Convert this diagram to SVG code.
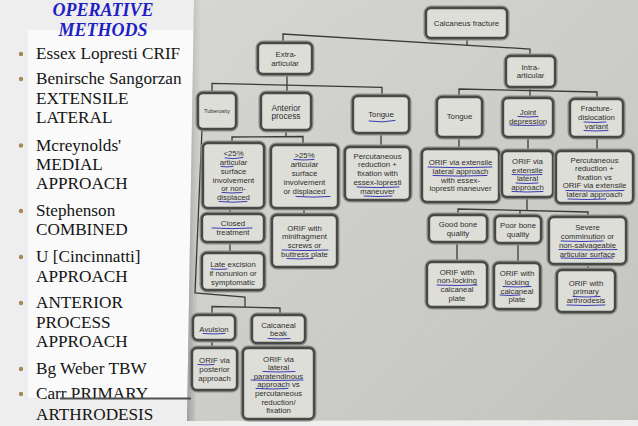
<svg xmlns="http://www.w3.org/2000/svg" width="638" height="426" viewBox="0 0 638 426">
<defs>
<linearGradient id="photo" x1="0" y1="0" x2="1" y2="1">
<stop offset="0" stop-color="#d6d6d2"/>
<stop offset="1" stop-color="#c3c3bf"/>
</linearGradient>
<linearGradient id="edge" x1="0" y1="0" x2="1" y2="0">
<stop offset="0" stop-color="#9c9c98"/>
<stop offset="1" stop-color="#c8c8c4" stop-opacity="0"/>
</linearGradient>
<style>
.sl{font-family:"Liberation Serif","Times New Roman",serif;font-size:17.2px;fill:#141414}
.hd{font-family:"Liberation Serif","Times New Roman",serif;font-size:18px;font-weight:bold;font-style:italic;fill:#1f1fc4;text-anchor:middle}
.bul{fill:#a8865a}
.halo{fill:none;stroke:#8e8e8a;stroke-width:5}
.box{fill:#deded9;stroke:#484846;stroke-width:2.4}
.t{font-family:"Liberation Sans",Arial,sans-serif;font-size:7.8px;fill:#2e2e2c;text-anchor:middle}
.conn{fill:none;stroke:#3a3a38;stroke-width:1.3}
.ink{fill:none;stroke:#3b3bb0;stroke-width:1;stroke-linecap:round}
</style>
</defs>

<!-- slide background -->
<rect x="0" y="0" width="638" height="426" fill="#eeeeee"/>
<rect x="28" y="30" width="166" height="368" fill="#fafafa"/>

<!-- heading and bullet list -->
<g id="list">
<text class="hd" x="103" y="16">OPERATIVE</text>
<text class="hd" x="103" y="36">METHODS</text>
<circle class="bul" cx="21" cy="54" r="2.2"/>
<text class="sl" x="36" y="59.3">Essex Lopresti CRIF</text>
<circle class="bul" cx="21" cy="79" r="2.2"/>
<text class="sl" x="36" y="84">Benirsche Sangorzan</text>
<text class="sl" x="36" y="104">EXTENSILE</text>
<text class="sl" x="36" y="122.7">LATERAL</text>
<circle class="bul" cx="21" cy="145.5" r="2.2"/>
<text class="sl" x="36" y="150.7">Mcreynolds'</text>
<text class="sl" x="36" y="170">MEDIAL</text>
<text class="sl" x="36" y="188.5">APPROACH</text>
<circle class="bul" cx="21" cy="211" r="2.2"/>
<text class="sl" x="36" y="216">Stephenson</text>
<text class="sl" x="36" y="235">COMBINED</text>
<circle class="bul" cx="21" cy="257" r="2.2"/>
<text class="sl" x="36" y="262">U [Cincinnatti]</text>
<text class="sl" x="36" y="281.5">APPROACH</text>
<circle class="bul" cx="21" cy="303" r="2.2"/>
<text class="sl" x="36" y="308">ANTERIOR</text>
<text class="sl" x="36" y="327.7">PROCESS</text>
<text class="sl" x="36" y="346.7">APPROACH</text>
<circle class="bul" cx="21" cy="369" r="2.2"/>
<text class="sl" x="36" y="374">Bg Weber TBW</text>
<circle class="bul" cx="21" cy="394" r="2.2"/>
<text class="sl" x="36" y="399">Carr PRIMARY</text>
<text class="sl" x="36" y="420">ARTHRODESIS</text>
</g>

<!-- photo of flowchart -->
<polygon points="194,0 638,0 638,420 187,421" fill="url(#photo)"/>
<polygon points="194,0 202,0 195,421 187,421" fill="url(#edge)"/>
<line x1="60" y1="398.5" x2="191" y2="398.5" stroke="#505050" stroke-width="1.8"/>

<g id="connectors">
<polyline class="conn" points="467,38 467,45.5"/>
<polyline class="conn" points="283,43 283,34 530,49 530,56"/>
<polyline class="conn" points="287,74 287,93"/>
<polyline class="conn" points="212,93 212,83.3 382,87.3 382,96"/>
<polyline class="conn" points="286,130 286,137"/>
<polyline class="conn" points="232,143 232,137 303,136.5 303,145"/>
<polyline class="conn" points="381,133 381,147"/>
<polyline class="conn" points="202,129 195,293 245,297 245,307"/>
<polyline class="conn" points="212,315 212,306.5 280,308 280,315"/>
<polyline class="conn" points="230,208 230,214"/>
<polyline class="conn" points="230,242 230,253"/>
<polyline class="conn" points="304,208 304,215"/>
<polyline class="conn" points="212,340 212,348"/>
<polyline class="conn" points="280,343 280,348"/>
<polyline class="conn" points="530,87 530,98"/>
<polyline class="conn" points="459,97 459,89 597,92 597,99"/>
<polyline class="conn" points="459,137 459,149"/>
<polyline class="conn" points="528,137 528,151"/>
<polyline class="conn" points="597,137 597,151"/>
<polyline class="conn" points="527,197 527,210.5"/>
<polyline class="conn" points="458,215 458,209 588,212 588,217"/>
<polyline class="conn" points="520,210.5 520,216"/>
<polyline class="conn" points="457,242 457,262"/>
<polyline class="conn" points="518,243 518,263"/>
<polyline class="conn" points="588,264 588,270"/>
</g>

<g id="n-calcaneus"><rect class="halo" x="426" y="8" width="81" height="30" rx="5"/><rect class="box" x="426" y="8" width="81" height="30" rx="5"/>
<text class="t" x="466.5" y="25.7">Calcaneus fracture</text></g>

<g id="n-extra"><rect class="halo" x="258" y="43" width="54" height="31" rx="5"/><rect class="box" x="258" y="43" width="54" height="31" rx="5"/>
<text class="t" x="286" y="56.8">Extra-<tspan x="285" dy="8.8">articular</tspan></text></g>

<g id="n-intra"><rect class="halo" x="506" y="56" width="49" height="31" rx="5"/><rect class="box" x="506" y="56" width="49" height="31" rx="5"/>
<text class="t" x="530.5" y="69.5">Intra-<tspan x="530.5" dy="8.8">articular</tspan></text></g>

<g id="n-tuberosity"><rect class="halo" x="198" y="93" width="38" height="36" rx="5"/><rect class="box" x="198" y="93" width="38" height="36" rx="5"/>
<text class="t" x="217" y="113" style="font-size:5.6px">Tuberosity</text></g>

<g id="n-anterior"><rect class="halo" x="261" y="93" width="50" height="37" rx="5"/><rect class="box" x="261" y="93" width="50" height="37" rx="5"/>
<text class="t" x="286" y="110.5" style="font-size:8.3px">Anterior<tspan x="286" dy="8.6">process</tspan></text></g>

<g id="n-tongue-extra"><rect class="halo" x="353" y="96" width="56" height="37" rx="5"/><rect class="box" x="353" y="96" width="56" height="37" rx="5"/>
<text class="t" x="381" y="117.2">Tongue</text></g>

<g id="n-tongue-intra"><rect class="halo" x="437" y="97" width="45" height="40" rx="5"/><rect class="box" x="437" y="97" width="45" height="40" rx="5"/>
<text class="t" x="459.5" y="119">Tongue</text></g>

<g id="n-joint"><rect class="halo" x="503" y="98" width="50" height="39" rx="5"/><rect class="box" x="503" y="98" width="50" height="39" rx="5"/>
<text class="t" x="528" y="115">Joint<tspan x="528" dy="8.6">depression</tspan></text></g>

<g id="n-fracture-dislocation"><rect class="halo" x="570" y="99" width="53" height="38" rx="5"/><rect class="box" x="570" y="99" width="53" height="38" rx="5"/>
<text class="t" x="596.5" y="111.3">Fracture-<tspan x="596.5" dy="8.6">dislocation</tspan><tspan x="596.5" dy="8.6">variant</tspan></text></g>

<g id="n-lt25"><rect class="halo" x="203" y="143" width="61" height="65" rx="5"/><rect class="box" x="203" y="143" width="61" height="65" rx="5"/>
<text class="t" x="233.5" y="156.2">&lt;25%<tspan x="233.5" dy="8.8">articular</tspan><tspan x="233.5" dy="8.8">surface</tspan><tspan x="233.5" dy="8.8">involvement</tspan><tspan x="233.5" dy="8.8">or non-</tspan><tspan x="233.5" dy="8.8">displaced</tspan></text></g>

<g id="n-gt25"><rect class="halo" x="271" y="145" width="67" height="63" rx="5"/><rect class="box" x="271" y="145" width="67" height="63" rx="5"/>
<text class="t" x="304.5" y="158">&gt;25%<tspan x="304.5" dy="9.1">articular</tspan><tspan x="304.5" dy="9.1">surface</tspan><tspan x="304.5" dy="9.1">involvement</tspan><tspan x="304.5" dy="9.1">or displaced</tspan></text></g>

<g id="n-perc-extra"><rect class="halo" x="345" y="147" width="65" height="53" rx="5"/><rect class="box" x="345" y="147" width="65" height="53" rx="5"/>
<text class="t" x="377.5" y="158.6">Percutaneous<tspan x="377.5" dy="8.8">reduction +</tspan><tspan x="377.5" dy="8.8">fixation with</tspan><tspan x="377.5" dy="8.8">essex-lopresti</tspan><tspan x="377.5" dy="8.8">maneuver</tspan></text></g>

<g id="n-orif-tongue"><rect class="halo" x="422" y="149" width="77" height="53" rx="5"/><rect class="box" x="422" y="149" width="77" height="53" rx="5"/>
<text class="t" x="460.5" y="165">ORIF via extensile<tspan x="460.5" dy="8.8">lateral approach</tspan><tspan x="460.5" dy="8.8">with essex-</tspan><tspan x="460.5" dy="8.8">lopresti maneuver</tspan></text></g>

<g id="n-orif-joint"><rect class="halo" x="502" y="151" width="51" height="46" rx="5"/><rect class="box" x="502" y="151" width="51" height="46" rx="5"/>
<text class="t" x="527.5" y="164">ORIF via<tspan x="527.5" dy="8.6">extensile</tspan><tspan x="527.5" dy="8.6">lateral</tspan><tspan x="527.5" dy="8.6">approach</tspan></text></g>

<g id="n-perc-fracture"><rect class="halo" x="556" y="151" width="77" height="52" rx="5"/><rect class="box" x="556" y="151" width="77" height="52" rx="5"/>
<text class="t" x="594.5" y="162.5">Percutaneous<tspan x="594.5" dy="8.6">reduction +</tspan><tspan x="594.5" dy="8.6">fixation vs</tspan><tspan x="594.5" dy="8.6">ORIF via extensile</tspan><tspan x="594.5" dy="8.6">lateral approach</tspan></text></g>

<g id="n-closed"><rect class="halo" x="202" y="214" width="62" height="28" rx="5"/><rect class="box" x="202" y="214" width="62" height="28" rx="5"/>
<text class="t" x="233" y="226.3">Closed<tspan x="233" dy="8.6">treatment</tspan></text></g>

<g id="n-minifragment"><rect class="halo" x="272" y="215" width="65" height="52" rx="5"/><rect class="box" x="272" y="215" width="65" height="52" rx="5"/>
<text class="t" x="304.5" y="230.8">ORIF with<tspan x="304.5" dy="8.6">minifragment</tspan><tspan x="304.5" dy="8.6">screws or</tspan><tspan x="304.5" dy="8.6">buttress plate</tspan></text></g>

<g id="n-good"><rect class="halo" x="429" y="215" width="58" height="27" rx="5"/><rect class="box" x="429" y="215" width="58" height="27" rx="5"/>
<text class="t" x="458" y="226.8">Good bone<tspan x="458" dy="8.8">quality</tspan></text></g>

<g id="n-poor"><rect class="halo" x="495" y="216" width="46" height="27" rx="5"/><rect class="box" x="495" y="216" width="46" height="27" rx="5"/>
<text class="t" x="518" y="227.8">Poor bone<tspan x="518" dy="8.8">quality</tspan></text></g>

<g id="n-severe"><rect class="halo" x="549" y="217" width="77" height="47" rx="5"/><rect class="box" x="549" y="217" width="77" height="47" rx="5"/>
<text class="t" x="587.5" y="230.3">Severe<tspan x="587.5" dy="8.8">comminution or</tspan><tspan x="587.5" dy="8.8">non-salvageable</tspan><tspan x="587.5" dy="8.8">articular surface</tspan></text></g>

<g id="n-late"><rect class="halo" x="202" y="253" width="62" height="37" rx="5"/><rect class="box" x="202" y="253" width="62" height="37" rx="5"/>
<text class="t" x="233" y="267.3">Late excision<tspan x="233" dy="8.7">if nonunion or</tspan><tspan x="233" dy="8.7">symptomatic</tspan></text></g>

<g id="n-nonlocking"><rect class="halo" x="427" y="262" width="60" height="45" rx="5"/><rect class="box" x="427" y="262" width="60" height="45" rx="5"/>
<text class="t" x="457" y="274.5">ORIF with<tspan x="457" dy="8.8">non-locking</tspan><tspan x="457" dy="8.8">calcaneal</tspan><tspan x="457" dy="8.8">plate</tspan></text></g>

<g id="n-locking"><rect class="halo" x="494" y="263" width="46" height="46" rx="5"/><rect class="box" x="494" y="263" width="46" height="46" rx="5"/>
<text class="t" x="517" y="276">ORIF with<tspan x="517" dy="8.8">locking</tspan><tspan x="517" dy="8.8">calcaneal</tspan><tspan x="517" dy="8.8">plate</tspan></text></g>

<g id="n-primary"><rect class="halo" x="557" y="270" width="58" height="42" rx="5"/><rect class="box" x="557" y="270" width="58" height="42" rx="5"/>
<text class="t" x="586" y="285.6">ORIF with<tspan x="586" dy="8.8">primary</tspan><tspan x="586" dy="8.8">arthrodesis</tspan></text></g>

<g id="n-avulsion"><rect class="halo" x="193" y="315" width="42" height="25" rx="5"/><rect class="box" x="193" y="315" width="42" height="25" rx="5"/>
<text class="t" x="214" y="331.5">Avulsion</text></g>

<g id="n-beak"><rect class="halo" x="252" y="315" width="53" height="28" rx="5"/><rect class="box" x="252" y="315" width="53" height="28" rx="5"/>
<text class="t" x="278.5" y="327.5">Calcaneal<tspan x="278.5" dy="8.6">beak</tspan></text></g>

<g id="n-orif-posterior"><rect class="halo" x="192" y="348" width="45" height="42" rx="5"/><rect class="box" x="192" y="348" width="45" height="42" rx="5"/>
<text class="t" x="214.5" y="363">ORIF via<tspan x="214.5" dy="8.8">posterior</tspan><tspan x="214.5" dy="8.8">approach</tspan></text></g>

<g id="n-orif-lateral"><rect class="halo" x="243" y="348" width="71" height="71" rx="5"/><rect class="box" x="243" y="348" width="71" height="71" rx="5"/>
<text class="t" x="278.5" y="361.5">ORIF via<tspan x="278.5" dy="8.6">lateral</tspan><tspan x="278.5" dy="8.6">paratendinous</tspan><tspan x="278.5" dy="8.6">approach vs</tspan><tspan x="278.5" dy="8.6">percutaneous</tspan><tspan x="278.5" dy="8.6">reduction/</tspan><tspan x="278.5" dy="8.6">fixation</tspan></text></g>

<!-- blue pen underlines -->
<g id="ink">
<path class="ink" d="M225,158 q9,1.5 18,-0.5"/>
<path class="ink" d="M221,166.5 q6,0.8 12,0"/>
<path class="ink" d="M222,192.5 q10,1 20,0"/>
<path class="ink" d="M219,201.5 q14,1.5 28,0"/>
<path class="ink" d="M294,159.5 q10,1 20,0"/>
<path class="ink" d="M296,196.5 q17,1.2 34,0"/>
<path class="ink" d="M357,187 q21,1.2 42,0"/>
<path class="ink" d="M364,196 q14,1 28,0"/>
<path class="ink" d="M369,121 q13,2 26,-0.5"/>
<path class="ink" d="M428,167 q32,1.5 64,0"/>
<path class="ink" d="M433,175.5 q27,1.2 54,0"/>
<path class="ink" d="M512,174.5 q15,1 30,0"/>
<path class="ink" d="M516,183 q11,1 22,0"/>
<path class="ink" d="M512,191.5 q15,1 31,0"/>
<path class="ink" d="M518,116.5 q10,1 20,0"/>
<path class="ink" d="M510,125 q17,1 35,0"/>
<path class="ink" d="M584,122 q11,1 22,0"/>
<path class="ink" d="M584,130.5 q12,1 24,0"/>
<path class="ink" d="M566,190.5 q29,1.2 58,0"/>
<path class="ink" d="M568,199 q19,1 38,0"/>
<path class="ink" d="M212,228 q20,1.2 40,0"/>
<path class="ink" d="M282,250 q23,1.2 46,0"/>
<path class="ink" d="M287,258.5 q13,1 26,0"/>
<path class="ink" d="M211,269 q8,0.8 16,0"/>
<path class="ink" d="M561,241 q21,1 42,0"/>
<path class="ink" d="M559,249.5 q29,1 58,0"/>
<path class="ink" d="M561,258 q26,1 52,0"/>
<path class="ink" d="M437,285 q20,1 40,0"/>
<path class="ink" d="M503,286.5 q14,1 28,0"/>
<path class="ink" d="M500,295 q10,1 20,0"/>
<path class="ink" d="M573,296.5 q13,1 27,0"/>
<path class="ink" d="M567,305 q19,1 38,0"/>
<path class="ink" d="M203,333.5 q11,1 22,0"/>
<path class="ink" d="M268,338.5 q11,1 22,0"/>
<path class="ink" d="M198,364.5 q8,0.8 16,0"/>
<path class="ink" d="M263,371.5 q16,1 32,0"/>
<path class="ink" d="M251,380 q26,1 52,0"/>
<path class="ink" d="M256,388.5 q16,1 32,0"/>
</g>
</svg>
